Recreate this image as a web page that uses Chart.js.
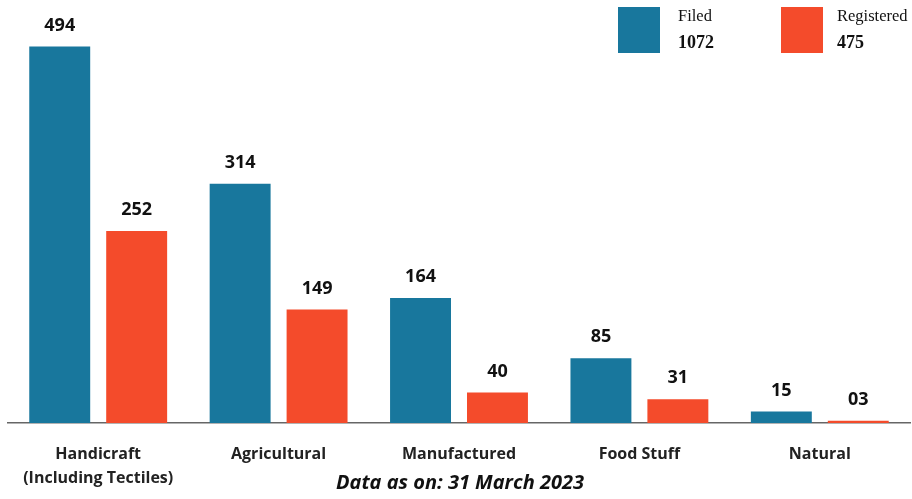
<!DOCTYPE html>
<html>
<head>
<meta charset="utf-8">
<script src="https://cdn.jsdelivr.net/npm/chart.js@4"></script>
<style>
  html, body { margin:0; padding:0; background:#fff; }
  #wrap { position:relative; width:912px; height:499px; overflow:hidden; }
  #c { position:absolute; left:0; top:0; }
  .sw { position:absolute; width:42px; height:46px; top:7px; }
  .lt { position:absolute; font-family:"Liberation Serif","Times New Roman",serif; color:#111; white-space:nowrap; }
  .ln { font-size:16.5px; top:6px; }
  .lv { font-size:18px; font-weight:bold; top:32px; }
  #cap { position:absolute; left:0; width:920px; top:468px; text-align:center; font-family:"Open Sans",sans-serif;
         font-weight:bold; font-style:italic; font-size:20px; color:#111; }
</style>
</head>
<body>
<div id="wrap">
  <canvas id="c" width="912" height="499"></canvas>
  <div class="sw" style="left:618px;background:#18779d"></div>
  <div class="lt ln" style="left:678px">Filed</div>
  <div class="lt lv" id="t0" style="left:678px"></div>
  <div class="sw" style="left:781px;background:#f44b2b"></div>
  <div class="lt ln" style="left:837px">Registered</div>
  <div class="lt lv" id="t1" style="left:837px"></div>
  <div id="cap">Data as on: 31 March 2023</div>
</div>
<script>
const categories = [["Handicraft", "(Including Tectiles)"], "Agricultural", "Manufactured", "Food Stuff", "Natural"];
const filed = [494, 314, 164, 85, 15];
const registered = [252, 149, 40, 31, 3];
const filedLabels = ["494", "314", "164", "85", "15"];
const registeredLabels = ["252", "149", "40", "31", "03"];
const seriesNames = ["Filed", "Registered"];
const totals = ["1072", "475"];

document.getElementById('t0').textContent = totals[0];
document.getElementById('t1').textContent = totals[1];

const valueLabels = {
  id: 'valueLabels',
  afterDatasetsDraw(chart) {
    const ctx = chart.ctx;
    const sets = [filedLabels, registeredLabels];
    ctx.save();
    ctx.font = 'bold 18px "Open Sans", sans-serif';
    ctx.fillStyle = '#111';
    ctx.textAlign = 'center';
    ctx.textBaseline = 'middle';
    chart.data.datasets.forEach((ds, di) => {
      const meta = chart.getDatasetMeta(di);
      meta.data.forEach((bar, i) => {
        ctx.fillText(sets[di][i], bar.x, bar.y - 21);
      });
    });
    ctx.restore();
  }
};

new Chart(document.getElementById('c'), {
  type: 'bar',
  data: {
    labels: categories,
    datasets: [
      { label: seriesNames[0], data: filed, backgroundColor: '#18779d' },
      { label: seriesNames[1], data: registered, backgroundColor: '#f44b2b' }
    ]
  },
  options: {
    responsive: false,
    animation: false,
    layout: { padding: { left: 8, right: 2, top: 0, bottom: 10 } },
    categoryPercentage: 0.853,
    barPercentage: 0.792,
    plugins: { legend: { display: false }, tooltip: { enabled: false } },
    scales: {
      x: {
        grid: { display: false, drawTicks: false },
        border: { display: true, color: '#666', width: 1.5 },
        afterFit(scale) { scale.height = 66; },
        ticks: {
          padding: 19,
          color: '#222',
          maxRotation: 0,
          font: { family: '"Open Sans", sans-serif', size: 16, weight: 'bold', lineHeight: 1.5 }
        }
      },
      y: {
        display: false,
        min: 0,
        max: 555
      }
    }
  },
  plugins: [valueLabels]
});
</script>
</body>
</html>
